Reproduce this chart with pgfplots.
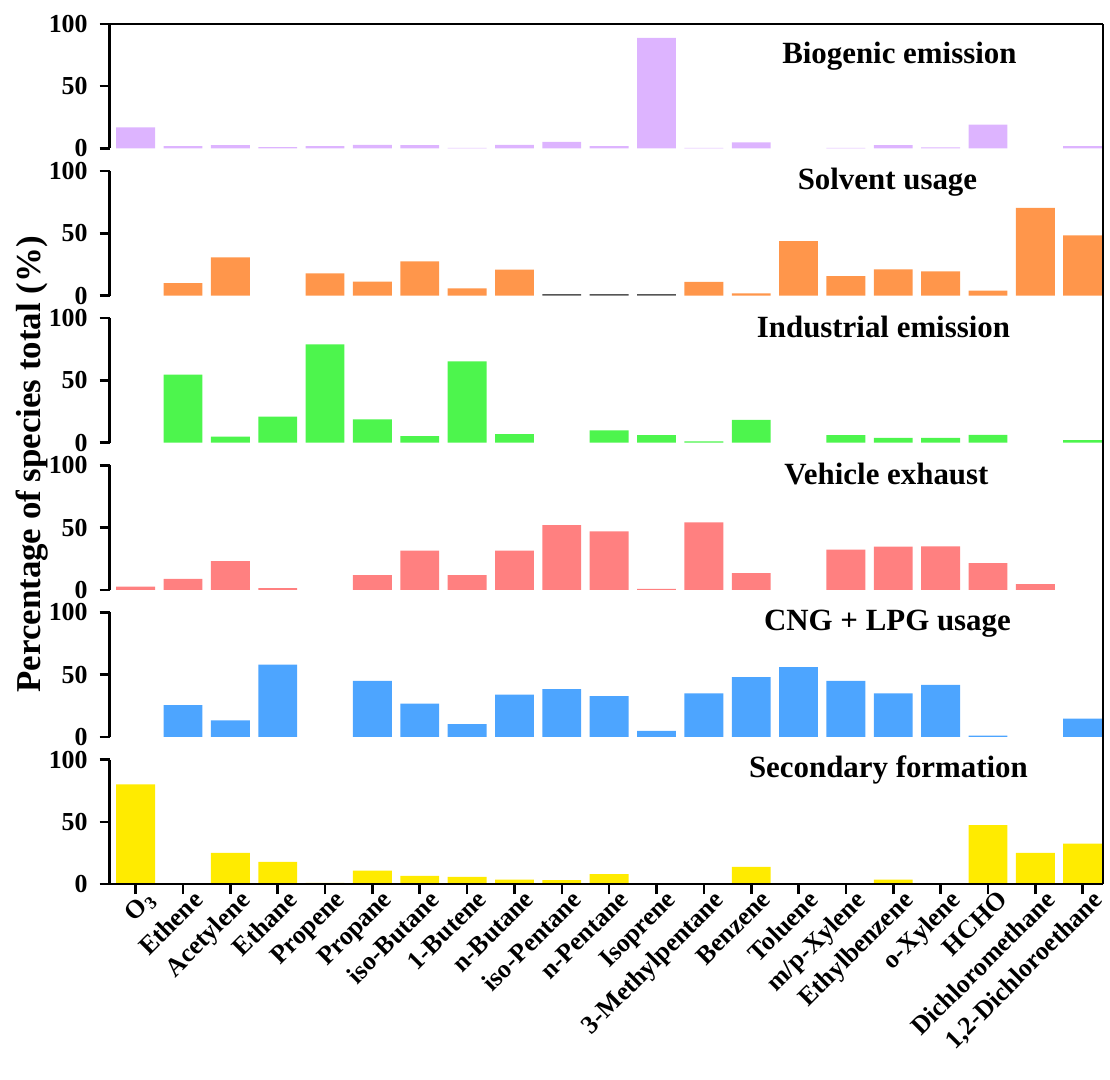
\documentclass[border=0pt]{standalone}
\usepackage{fontspec}
\setmainfont{Liberation Serif}
\usepackage{pgfplots}
\pgfplotsset{compat=1.18}
\definecolor{cbio}{RGB}{221,180,255}
\definecolor{csol}{RGB}{255,150,75}
\definecolor{cind}{RGB}{77,245,77}
\definecolor{cveh}{RGB}{255,128,128}
\definecolor{ccng}{RGB}{77,165,255}
\definecolor{csec}{RGB}{255,235,0}
\definecolor{cgry}{RGB}{85,85,85}
\tikzset{ttl/.style={font=\fontsize{15.5}{16}\selectfont\bfseries, anchor=base}}
\pgfplotsset{
 panel/.style={
  scale only axis, width=498.5pt, height=62.5pt,
  xmin=-0.55, xmax=20.43, ymin=0, ymax=100,
  axis y line*=left,
  ytick={0,50,100}, ytick pos=left, tick align=outside,
  major tick length=5pt,
  tick style={line width=1.3pt, black},
  axis line style={line width=1.3pt, black},
  yticklabel style={font=\fontsize{13}{13}\selectfont\bfseries, xshift=-2.5pt},
  /pgf/number format/assume math mode=true,
  clip=false,
 },
 bars/.style={ybar, bar width=19.5pt, bar shift=0pt, draw=none, fill=#1},
}
\begin{document}
\begin{tikzpicture}
% Biogenic emission
\begin{axis}[panel, at={(0,0)}, anchor=north west, axis x line=none, xtick=\empty]
\addplot[bars=cbio] coordinates {(0,17) (1,1.9) (2,2.7) (3,1.1) (4,1.9) (5,2.9) (6,2.7) (7,0.5) (8,2.9) (9,5.3) (10,1.9) (11,88.7) (12,0.5) (13,4.8) (15,0.5) (16,2.7) (17,0.8) (18,19.2) (20,1.9)};
\node[ttl] at (rel axis cs:0.795,0.68) {Biogenic emission};
\end{axis}
% Solvent usage
\begin{axis}[panel, at={(0,-73.83pt)}, anchor=north west, axis x line=none, xtick=\empty]
\addplot[bars=csol] coordinates {(1,10) (2,30.6) (4,17.9) (5,11.2) (6,27.5) (7,5.9) (8,20.8) (12,11) (13,1.7) (14,43.7) (15,15.7) (16,21) (17,19.5) (18,4) (19,70.4) (20,48.3)};
\addplot[bars=cgry] coordinates {(9,1.1) (10,1.1) (11,1.1)};
\node[ttl] at (rel axis cs:0.783,0.855) {Solvent usage};
\end{axis}
% Industrial emission
\begin{axis}[panel, at={(0,-147.66pt)}, anchor=north west, axis x line=none, xtick=\empty]
\addplot[bars=cind] coordinates {(1,54.7) (2,5) (3,21) (4,79) (5,18.7) (6,5.3) (7,65.3) (8,7) (10,9.9) (11,6.1) (12,1) (13,18.4) (15,6.1) (16,4) (17,4) (18,6.4) (20,2.1)};
\node[ttl] at (rel axis cs:0.779,0.846) {Industrial emission};
\end{axis}
% Vehicle exhaust
\begin{axis}[panel, at={(0,-221.49pt)}, anchor=north west, axis x line=none, xtick=\empty]
\addplot[bars=cveh] coordinates {(0,2.7) (1,8.8) (2,23) (3,1.4) (5,11.8) (6,31.5) (7,11.8) (8,31.5) (9,52) (10,47) (11,0.8) (12,54.2) (13,13.4) (15,32.3) (16,34.7) (17,34.9) (18,21.4) (19,4.6)};
\node[ttl] at (rel axis cs:0.782,0.843) {Vehicle exhaust};
\end{axis}
% CNG + LPG usage
\begin{axis}[panel, at={(0,-295.32pt)}, anchor=north west, axis x line=none, xtick=\empty]
\addplot[bars=ccng] coordinates {(1,25.6) (2,13.3) (3,58.1) (5,45) (6,26.7) (7,10.4) (8,34.1) (9,38.4) (10,32.8) (11,5) (12,35) (13,48) (14,56) (15,45) (16,35) (17,41.9) (18,1.1) (20,14.7)};
\node[ttl] at (rel axis cs:0.783,0.854) {CNG + LPG usage};
\end{axis}
% Secondary formation
\begin{axis}[panel, at={(0,-369.15pt)}, anchor=north west,
  axis x line*=bottom, xtick={0,...,20}, xtick pos=bottom,
  xticklabels={O\textsubscript{3},Ethene,Acetylene,Ethane,Propene,Propane,iso-Butane,1-Butene,n-Butane,iso-Pentane,n-Pentane,Isoprene,3-Methylpentane,Benzene,Toluene,m/p-Xylene,Ethylbenzene,o-Xylene,HCHO,Dichloromethane,{1,2-Dichloroethane}},
  xticklabel style={rotate=45, anchor=north east, inner sep=0pt, xshift=5pt, yshift=-1pt, font=\fontsize{13}{13}\selectfont\bfseries}]
\addplot[bars=csec] coordinates {(0,80) (2,25) (3,17.8) (4,1) (5,10.9) (6,6.6) (7,5.8) (8,3.7) (9,3.2) (10,8) (13,13.8) (15,0.8) (16,3.7) (18,47.4) (19,25) (20,32.5)};
\node[ttl] at (rel axis cs:0.784,0.858) {Secondary formation};
\end{axis}
% outer frame
\begin{axis}[scale only axis, width=498.5pt, height=431.65pt, at={(0,0)}, anchor=north west,
  xmin=0, xmax=1, ymin=0, ymax=1, axis x line*=box, axis y line*=right,
  xtick=\empty, ytick=\empty, axis line style={line width=1.3pt, black}, clip=false]
\node[rotate=90, font=\fontsize{17.5}{18}\selectfont\bfseries] at (rel axis cs:-0.078,0.488) {Percentage of species total (\%)};
\end{axis}
\pgfresetboundingbox
\path (-55pt,12pt) rectangle (502pt,-529.5pt);
\end{tikzpicture}
\end{document}
